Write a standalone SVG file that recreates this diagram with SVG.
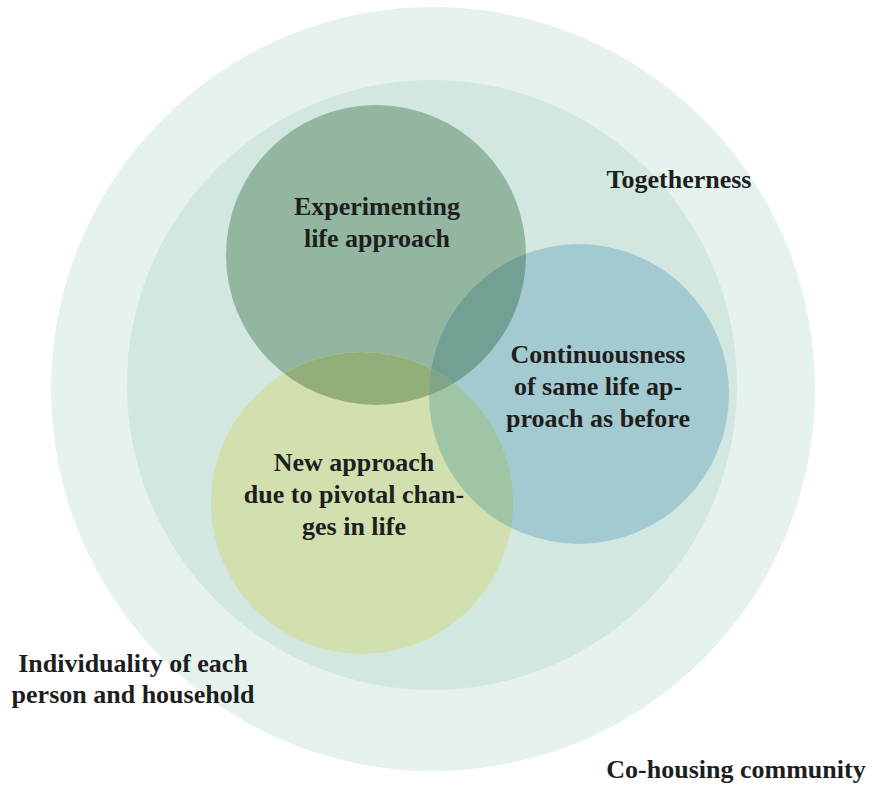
<svg xmlns="http://www.w3.org/2000/svg" width="873" height="785" viewBox="0 0 873 785">
<defs>
<style>
text{font-family:"Liberation Serif","Times New Roman",serif;font-weight:bold;font-size:26px;fill:#1e1e1e;text-anchor:middle}
</style>
<clipPath id="cg"><circle cx="376" cy="255" r="150"/></clipPath>
<clipPath id="cb"><circle cx="579" cy="394" r="150"/></clipPath>
<clipPath id="cy"><circle cx="362" cy="503" r="151"/></clipPath>
</defs>
<rect width="873" height="785" fill="#ffffff"/>
<g id="community"><circle cx="433" cy="389" r="382" fill="#e5f2ee"/></g>
<g id="togetherness"><circle cx="432" cy="385" r="305" fill="#d3e7e1"/></g>
<g id="experimenting"><circle cx="376" cy="255" r="150" fill="#93b6a0"/></g>
<g id="newapproach"><circle cx="362" cy="503" r="151" fill="#d1e0ae"/></g>
<g id="continuous"><circle cx="579" cy="394" r="150" fill="#a3cad0"/></g>
<g id="overlaps">
<g clip-path="url(#cg)"><circle cx="362" cy="503" r="151" fill="#94ae7a"/></g>
<g clip-path="url(#cg)"><circle cx="579" cy="394" r="150" fill="#72a094"/></g>
<g clip-path="url(#cy)"><circle cx="579" cy="394" r="150" fill="#a0c5a4"/></g>
<g clip-path="url(#cg)"><g clip-path="url(#cy)"><circle cx="579" cy="394" r="150" fill="#7fa486"/></g></g>
</g>
<g id="labels">
<text x="377" y="215">Experimenting</text>
<text x="377" y="247">life approach</text>
<text x="598" y="363">Continuousness</text>
<text x="598" y="395">of same life ap-</text>
<text x="598" y="427">proach as before</text>
<text x="354" y="471">New approach</text>
<text x="354" y="503">due to pivotal chan-</text>
<text x="354" y="535">ges in life</text>
<text x="679" y="188">Togetherness</text>
<text x="133" y="672">Individuality of each</text>
<text x="133" y="703">person and household</text>
<text x="736" y="778">Co-housing community</text>
</g>
</svg>
